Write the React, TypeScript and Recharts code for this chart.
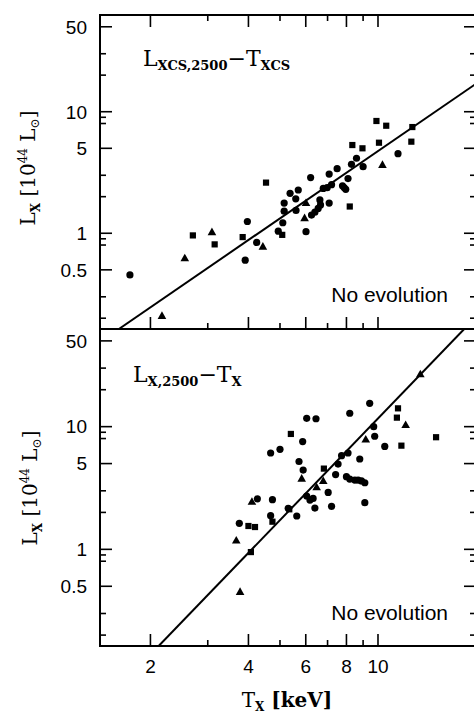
import React from 'react';
import { ScatterChart, Scatter, XAxis, YAxis, ReferenceArea } from 'recharts';

// data (T in keV, L in 1e44 Lsun)
const topCircles = [
  { x: 1.73, y: 0.454 }, { x: 3.97, y: 1.25 }, { x: 3.91, y: 0.6 }, { x: 4.24, y: 0.84 },
  { x: 4.94, y: 1.04 }, { x: 5.1, y: 1.22 }, { x: 5.15, y: 1.52 }, { x: 5.15, y: 1.77 },
  { x: 5.37, y: 2.13 }, { x: 5.6, y: 1.54 }, { x: 5.59, y: 1.92 }, { x: 5.69, y: 2.27 },
  { x: 6.01, y: 1.03 }, { x: 6.21, y: 2.87 }, { x: 6.25, y: 1.41 }, { x: 6.4, y: 1.49 },
  { x: 6.55, y: 1.6 }, { x: 6.63, y: 1.88 }, { x: 6.66, y: 1.71 }, { x: 6.79, y: 2.34 },
  { x: 6.98, y: 2.37 }, { x: 7.08, y: 3.07 }, { x: 7.08, y: 1.77 }, { x: 7.2, y: 2.51 },
  { x: 7.49, y: 3.4 }, { x: 7.78, y: 2.46 }, { x: 7.87, y: 2.38 }, { x: 7.96, y: 2.3 },
  { x: 8.09, y: 2.82 }, { x: 8.29, y: 3.69 }, { x: 8.59, y: 4.14 }, { x: 9.0, y: 3.53 },
  { x: 11.52, y: 4.52 },
];
const topSquares = [
  { x: 2.7, y: 0.96 }, { x: 3.15, y: 0.81 }, { x: 3.84, y: 0.93 }, { x: 4.53, y: 2.61 },
  { x: 5.08, y: 0.97 }, { x: 8.19, y: 1.66 }, { x: 8.34, y: 5.32 }, { x: 8.96, y: 5.0 },
  { x: 9.89, y: 8.39 }, { x: 10.6, y: 7.67 }, { x: 10.07, y: 5.56 }, { x: 12.75, y: 7.48 },
  { x: 12.66, y: 5.67 },
];
const topTriangles = [
  { x: 2.17, y: 0.209 }, { x: 2.55, y: 0.623 }, { x: 3.09, y: 1.02 }, { x: 4.43, y: 0.776 },
  { x: 6.01, y: 1.77 }, { x: 5.95, y: 1.33 }, { x: 10.32, y: 3.65 },
];
const topFit = [{ x: 1.6, y: 0.163 }, { x: 20, y: 17 }];

const bottomCircles = [
  { x: 3.75, y: 1.63 }, { x: 4.26, y: 2.58 }, { x: 4.74, y: 2.54 }, { x: 4.68, y: 6.1 },
  { x: 5.0, y: 6.54 }, { x: 4.68, y: 1.88 }, { x: 5.63, y: 1.87 }, { x: 5.3, y: 2.16 },
  { x: 6.04, y: 11.7 }, { x: 6.45, y: 11.6 }, { x: 5.87, y: 7.55 }, { x: 5.72, y: 5.2 },
  { x: 5.89, y: 4.43 }, { x: 6.04, y: 2.72 }, { x: 6.18, y: 2.52 }, { x: 6.32, y: 2.6 },
  { x: 6.4, y: 2.17 }, { x: 7.03, y: 2.91 }, { x: 7.2, y: 2.24 }, { x: 7.41, y: 4.07 },
  { x: 7.54, y: 4.95 }, { x: 7.73, y: 5.8 }, { x: 8.09, y: 6.1 }, { x: 8.19, y: 12.86 },
  { x: 9.43, y: 15.5 }, { x: 8.79, y: 5.45 }, { x: 8.0, y: 3.91 }, { x: 8.19, y: 3.74 },
  { x: 8.49, y: 3.67 }, { x: 8.69, y: 3.67 }, { x: 8.9, y: 3.61 }, { x: 9.11, y: 3.49 },
  { x: 9.11, y: 2.4 }, { x: 10.49, y: 6.9 }, { x: 9.7, y: 10.0 }, { x: 9.77, y: 8.35 },
];
const bottomSquares = [
  { x: 4.07, y: 0.95 }, { x: 4.0, y: 1.55 }, { x: 4.19, y: 1.52 }, { x: 5.4, y: 8.72 },
  { x: 6.82, y: 4.55 }, { x: 11.52, y: 14.1 }, { x: 11.43, y: 11.84 }, { x: 11.8, y: 7.0 },
  { x: 15.08, y: 8.2 }, { x: 5.34, y: 2.12 }, { x: 4.74, y: 1.68 },
];
const bottomTriangles = [
  { x: 3.67, y: 1.18 }, { x: 3.77, y: 0.45 }, { x: 4.1, y: 2.44 }, { x: 5.83, y: 3.77 },
  { x: 6.48, y: 3.2 }, { x: 6.79, y: 3.6 }, { x: 9.17, y: 7.85 }, { x: 12.16, y: 10.3 },
  { x: 13.49, y: 26.7 },
];
const bottomFit = [{ x: 2.12, y: 0.163 }, { x: 18.4, y: 62.5 }];

const xDomain = [1.4, 20];
const yDomain = [0.163, 62.5];
const xTicks = [2, 3, 4, 5, 6, 7, 8, 9, 10];
const xLabels = [2, 4, 6, 8, 10];
const yTicks = [0.2, 0.3, 0.5, 0.8, 0.9, 1, 2, 3, 5, 8, 9, 10, 20, 30, 50];
const yLabels = [0.5, 1, 5, 10, 50];

const PLOT_W = 376;
const TICK_FONT = '"Liberation Sans", Arial, sans-serif';
const SERIF = '"DejaVu Serif", serif';

const makeYTick = (margin: number) => (props: any) => {
  const { x, y, payload } = props;
  const v = payload.value;
  const major = yLabels.includes(v);
  const ax = x + margin;
  const len = major ? 12 : 6;
  return (
    <g>
      <line x1={ax} x2={ax + len} y1={y} y2={y} stroke="#000" strokeWidth={1.6} />
      <line x1={ax + PLOT_W - len} x2={ax + PLOT_W} y1={y} y2={y} stroke="#000" strokeWidth={1.6} />
      {major && (
        <text x={x} y={y} dy="0.36em" textAnchor="end" fontSize={19} fontFamily={TICK_FONT} fill="#000">
          {v}
        </text>
      )}
    </g>
  );
};

const makeXTick = (margin: number, plotH: number, showLabels: boolean, topTicks: boolean) => (props: any) => {
  const { x, y, payload } = props;
  const v = payload.value;
  const major = xLabels.includes(v);
  const ay = y - margin;
  const len = major ? 12 : 6;
  return (
    <g>
      <line x1={x} x2={x} y1={ay} y2={ay - len} stroke="#000" strokeWidth={1.6} />
      {topTicks && (
        <line x1={x} x2={x} y1={ay - plotH} y2={ay - plotH + len} stroke="#000" strokeWidth={1.6} />
      )}
      {showLabels && major && (
        <text x={x} y={y} dy="0.71em" textAnchor="middle" fontSize={19} fontFamily={TICK_FONT} fill="#000">
          {v}
        </text>
      )}
    </g>
  );
};

const Circle = (p: any) => <circle cx={p.cx} cy={p.cy} r={3.6} fill="#000" />;
const Square = (p: any) => <rect x={p.cx - 3.1} y={p.cy - 3.1} width={6.2} height={6.2} fill="#000" />;
const Triangle = (p: any) => (
  <polygon
    points={`${p.cx},${p.cy - 4.6} ${p.cx - 4.3},${p.cy + 3} ${p.cx + 4.3},${p.cy + 3}`}
    fill="#000"
  />
);
const NoPoint = () => <g />;

interface PanelProps {
  circles: { x: number; y: number }[];
  squares: { x: number; y: number }[];
  triangles: { x: number; y: number }[];
  fit: { x: number; y: number }[];
  height: number;
  top: number;
  marginTop: number;
  xHeight: number;
  showXLabels: boolean;
  topTicks: boolean;
}

const Panel: React.FC<PanelProps> = ({
  circles, squares, triangles, fit, height, top, marginTop, xHeight, showXLabels, topTicks,
}) => {
  const plotH = height - marginTop - xHeight;
  const xMargin = showXLabels ? 14 : 0;
  return (
    <div style={{ position: 'absolute', left: 0, top }}>
      <ScatterChart width={490} height={height} margin={{ top: marginTop, right: 14, bottom: 0, left: 0 }}>
        <XAxis
          type="number"
          dataKey="x"
          scale="log"
          domain={xDomain}
          allowDataOverflow
          ticks={xTicks}
          interval={0}
          height={xHeight}
          tickSize={0}
          tickMargin={xMargin}
          tick={makeXTick(xMargin, plotH, showXLabels, topTicks)}
          axisLine={{ stroke: '#000', strokeWidth: 2 }}
        />
        <YAxis
          type="number"
          dataKey="y"
          scale="log"
          domain={yDomain}
          allowDataOverflow
          ticks={yTicks}
          interval={0}
          width={100}
          tickSize={0}
          tickMargin={13}
          tick={makeYTick(13)}
          axisLine={{ stroke: '#000', strokeWidth: 2 }}
        />
        <ReferenceArea
          x1={xDomain[0]}
          x2={xDomain[1]}
          y1={yDomain[0]}
          y2={yDomain[1]}
          fill="none"
          stroke="#000"
          strokeWidth={2}
          ifOverflow="visible"
        />
        <Scatter data={fit} line={{ stroke: '#000', strokeWidth: 2 }} shape={NoPoint} isAnimationActive={false} />
        <Scatter data={circles} shape={Circle} isAnimationActive={false} />
        <Scatter data={squares} shape={Square} isAnimationActive={false} />
        <Scatter data={triangles} shape={Triangle} isAnimationActive={false} />
      </ScatterChart>
    </div>
  );
};

const YTitle: React.FC<{ cx: number; cy: number }> = ({ cx, cy }) => (
  <text transform={`translate(${cx},${cy}) rotate(-90)`} textAnchor="middle" fontFamily={SERIF} fill="#000">
    <tspan fontSize={20}>L</tspan>
    <tspan fontSize={12} fontWeight="bold" dy={5}>X</tspan>
    <tspan fontSize={20} dy={-5}> [10</tspan>
    <tspan fontSize={12} dy={-8}>44</tspan>
    <tspan fontSize={20} dy={8}> L</tspan>
    <tspan fontSize={12} dy={4}>⊙</tspan>
    <tspan fontSize={20} dy={-4}>]</tspan>
  </text>
);

export default function App() {
  return (
    <div style={{ position: 'relative', width: 474, height: 712, overflow: 'hidden', background: '#fff' }}>
      <style>{'body{margin:0;}'}</style>
      <Panel
        circles={topCircles}
        squares={topSquares}
        triangles={topTriangles}
        fit={topFit}
        height={340}
        top={0}
        marginTop={15}
        xHeight={11}
        showXLabels={false}
        topTicks
      />
      <Panel
        circles={bottomCircles}
        squares={bottomSquares}
        triangles={bottomTriangles}
        fit={bottomFit}
        height={392}
        top={320}
        marginTop={9}
        xHeight={66}
        showXLabels
        topTicks={false}
      />
      <svg width={474} height={712} style={{ position: 'absolute', left: 0, top: 0, pointerEvents: 'none' }}>
        <YTitle cx={35} cy={168} />
        <YTitle cx={37} cy={488} />
        {/* panel labels */}
        <text x={143} y={66} fontFamily={SERIF} fill="#000">
          <tspan fontSize={22}>L</tspan>
          <tspan fontSize={13} fontWeight="bold" dy={4}>XCS,2500</tspan>
          <tspan fontSize={22} dy={-4}>−T</tspan>
          <tspan fontSize={13} fontWeight="bold" dy={4}>XCS</tspan>
        </text>
        <text x={133} y={382} fontFamily={SERIF} fill="#000">
          <tspan fontSize={22}>L</tspan>
          <tspan fontSize={13} fontWeight="bold" dy={4}>X,2500</tspan>
          <tspan fontSize={22} dy={-4}>−T</tspan>
          <tspan fontSize={13} fontWeight="bold" dy={4}>X</tspan>
        </text>
        <text x={448} y={302} textAnchor="end" fontSize={21} fontFamily={TICK_FONT} fill="#000">No evolution</text>
        <text x={448} y={620} textAnchor="end" fontSize={21} fontFamily={TICK_FONT} fill="#000">No evolution</text>
        <text x={287} y={707} textAnchor="middle" fontFamily={SERIF} fill="#000">
          <tspan fontSize={20}>T</tspan>
          <tspan fontSize={12} fontWeight="bold" dy={4}>X</tspan>
          <tspan fontSize={20} fontWeight="bold" dy={-4}> [keV]</tspan>
        </text>
      </svg>
    </div>
  );
}
